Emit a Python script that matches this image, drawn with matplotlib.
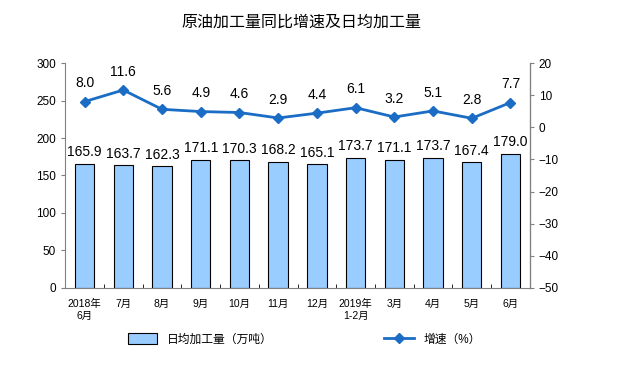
import matplotlib
matplotlib.use('Agg')
import matplotlib.pyplot as plt
import numpy as np

plt.rcParams['font.family'] = ['Liberation Sans', 'Noto Sans CJK SC', 'DejaVu Sans']

months = ['2018年\n6月', '7月', '8月', '9月', '10月', '11月', '12月',
          '2019年\n1-2月', '3月', '4月', '5月', '6月']
daily = [165.9, 163.7, 162.3, 171.1, 170.3, 168.2, 165.1, 173.7, 171.1, 173.7, 167.4, 179.0]
growth = [8.0, 11.6, 5.6, 4.9, 4.6, 2.9, 4.4, 6.1, 3.2, 5.1, 2.8, 7.7]

bar_color = '#99CCFF'
line_color = '#1B6CC4'

fig = plt.figure(figsize=(6.33, 3.73), dpi=100)
ax = fig.add_axes([0.103, 0.228, 0.734, 0.603])
x = np.arange(len(months))

bars = ax.bar(x, daily, width=0.5, color=bar_color, edgecolor='black', linewidth=0.8,
              label='日均加工量（万吨）')
for xi, v in zip(x, daily):
    ax.text(xi, v + 6, f'{v:.1f}', ha='center', va='bottom', fontsize=10)

ax.set_ylim(0, 300)
ax.set_yticks(range(0, 301, 50))
ax.set_xlim(-0.5, len(months) - 0.5)
ax.set_xticks(x)
ax.set_xticklabels(months, fontsize=7.5)
ax.set_xticks(np.arange(-0.5, len(months), 1), minor=True)
ax.tick_params(axis='x', which='major', length=0, pad=8)
ax.tick_params(axis='x', which='minor', length=3, direction='in')
ax.tick_params(axis='y', labelsize=8.5, length=3, direction='out', color='#808080')
ax.spines['top'].set_visible(False)
ax.spines['left'].set_color('#808080')
ax.spines['bottom'].set_color('#808080')

ax2 = ax.twinx()
ax2.plot(x, growth, color=line_color, linewidth=2, marker='D', markersize=5,
         label='增速（%）')
for xi, v in zip(x, growth):
    ax2.text(xi, v + 3.5, f'{v:.1f}', ha='center', va='bottom', fontsize=10)
ax2.set_ylim(-50, 20)
ax2.set_yticks(range(-50, 21, 10))
ax2.tick_params(axis='y', labelsize=8.5, length=3, direction='out', color='#808080')
ax2.spines['top'].set_visible(False)
ax2.spines['left'].set_visible(False)
ax2.spines['bottom'].set_visible(False)
ax2.spines['right'].set_color('#808080')

fig.text(0.477, 0.94, '原油加工量同比增速及日均加工量', ha='center', va='center', fontsize=11.5)

fig.legend(handles=[bars], loc='center left', bbox_to_anchor=(0.185, 0.09),
           frameon=False, fontsize=8.5, handlelength=2.5, handleheight=1.0)
fig.legend(handles=ax2.get_lines(), loc='center left', bbox_to_anchor=(0.59, 0.09),
           frameon=False, fontsize=8.5, handlelength=2.5)

fig.savefig('out.png', dpi=100)
